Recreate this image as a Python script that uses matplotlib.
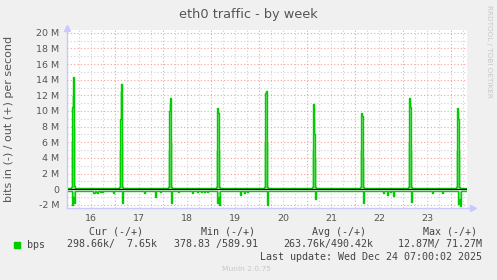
import numpy as np
import matplotlib
matplotlib.use("Agg")
import matplotlib.pyplot as plt
from matplotlib.patches import Rectangle

# one sample per 30 minutes, starting Mon Dec 16 00:00 (values in Mbit/s)
n_samples = 400
out_base = 0.15
in_base = -0.2

# daily backup spikes on the "out" side: first slot, avg values, max values
spike_start = [4, 52, 101, 149, 197, 245, 293, 341, 389]
spike_avg = [
    [0.3, 10.5, 14.4, 0.4],
    [0.3, 9.0, 13.4, 0.3],
    [0.3, 10.0, 11.7, 0.3],
    [0.3, 10.4, 9.8, 0.3],
    [0.3, 12.3, 12.5, 0.3],
    [0.3, 10.9, 7.0, 0.3],
    [0.3, 9.7, 9.3, 0.3],
    [0.3, 11.7, 10.5, 0.3],
    [0.3, 10.4, 9.0, 0.3],
]
spike_max = [
    [6.0, 12.0, 14.4, 8.0],
    [5.0, 12.5, 13.4, 6.0],
    [5.0, 11.0, 11.7, 6.0],
    [5.0, 10.4, 10.0, 5.0],
    [6.0, 12.3, 12.5, 6.0],
    [5.0, 10.9, 9.0, 4.0],
    [5.0, 9.7, 9.5, 4.0],
    [6.0, 11.7, 11.0, 5.0],
    [5.0, 10.4, 10.0, 5.0],
]

# "in" side dips (slot, value)
in_slots = [5, 6, 7, 26, 27, 29, 30, 33, 35, 46, 55, 77, 88, 93, 104, 111,
            125, 130, 134, 137, 140, 150, 151, 152, 173, 177, 180, 200, 248,
            296, 316, 320, 323, 326, 344, 365, 375, 391, 392, 393]
in_vals = [-2.0, -1.0, -1.8, -0.5, -0.5, -0.4, -0.5, -0.4, -0.4, -0.5, -1.8,
           -0.5, -1.0, -0.3, -1.8, -0.4, -0.5, -0.3, -0.4, -0.4, -0.3, -1.8,
           -1.0, -2.0, -0.7, -0.5, -0.4, -2.0, -1.3, -1.8, -0.5, -0.8, -0.4,
           -0.9, -1.6, -0.5, -0.5, -1.9, -1.2, -2.1]

day_labels = ["16", "17", "18", "19", "20", "21", "22", "23"]
y_ticks = [-2, 0, 2, 4, 6, 8, 10, 12, 14, 16, 18, 20]
y_labels = ["-2 M", "0", "2 M", "4 M", "6 M", "8 M", "10 M", "12 M",
            "14 M", "16 M", "18 M", "20 M"]

# build the series
t = np.arange(n_samples) * 0.5
out_avg = np.full(n_samples, out_base)
out_max = np.full(n_samples, out_base)
for s, a, m in zip(spike_start, spike_avg, spike_max):
    out_avg[s:s + 4] = a
    out_max[s:s + 4] = m
in_avg = np.full(n_samples, in_base)
in_avg[in_slots] = in_vals

W, H = 497, 280
fig = plt.figure(figsize=(W / 100, H / 100), dpi=100, facecolor="#F0F0F0")
ax = fig.add_axes([67 / W, 1 - 208 / H, 400 / W, 178 / H])
ax.set_facecolor("white")
ax.set_xlim(0, 200)
ax.set_ylim(-2.4, 20.35)

red = "#F4A0A0"
gray = "#D0D0D0"
axis_col = "#C8C8FF"

# grid
for h in range(6, 200, 6):
    ax.axvline(h, color=red if h % 24 == 0 else gray, lw=0.8,
               ls=(0, (1, 2)), zorder=1)
for v in range(-2, 21):
    if v == 0:
        continue
    ax.axhline(v, color=red if v % 2 == 0 else gray, lw=0.8,
               ls=(0, (1, 2)), zorder=1)

# data
ax.fill_between(t, out_base, out_max, color="#80E080", lw=0, step="post", zorder=2)
ax.fill_between(t, in_avg, in_base, color="#80E080", lw=0, step="post", zorder=2)
ax.step(t, out_avg, where="post", color="#00CC00", lw=1.0, zorder=4)
ax.step(t, in_avg, where="post", color="#00CC00", lw=1.0, zorder=4)
ax.axhline(0, color="black", lw=0.9, zorder=5)

# axes
for side in ["top", "right", "left", "bottom"]:
    ax.spines[side].set_visible(False)
ax.plot([0, 0], [0, 1.01], transform=ax.transAxes, color=axis_col,
        lw=1, clip_on=False, zorder=5)
ax.plot([0, 1.01], [0, 0], transform=ax.transAxes, color=axis_col,
        lw=1, clip_on=False, zorder=5)
ax.plot(0, 1.012, marker="^", ms=4, color=axis_col, transform=ax.transAxes,
        clip_on=False, zorder=5)
ax.plot(1.015, 0, marker=">", ms=4, color=axis_col, transform=ax.transAxes,
        clip_on=False, zorder=5)

ax.set_xticks([12 + 24 * k for k in range(len(day_labels))])
ax.set_xticklabels(day_labels)
ax.set_yticks(y_ticks)
ax.set_yticklabels(y_labels)
ax.tick_params(axis="x", length=0, pad=4, labelsize=6.8, labelcolor="#555555")
ax.tick_params(axis="y", length=0, pad=5.5, labelsize=6.8, labelcolor="#555555")

ax.set_ylabel("bits in (-) / out (+) per second", fontsize=8, color="#555555")
ax.yaxis.set_label_coords(-53 / 400, 0.5)

def ftext(x, y, s, **kw):
    fig.text(x / W, 1 - y / H, s, **kw)

ftext(248, 18, "eth0 traffic - by week", ha="center", va="baseline",
      fontsize=9.3, color="#555555")
ftext(489, 5, "RRDTOOL / TOBI OETIKER", ha="center", va="top", rotation=270,
      fontsize=5.2, color="#C8C8C8")

mono = dict(family="DejaVu Sans Mono", fontsize=7.2, color="#444444", va="center")
ftext(89, 232, "Cur (-/+)", **mono)
ftext(201, 232, "Min (-/+)", **mono)
ftext(312, 232, "Avg (-/+)", **mono)
ftext(423, 232, "Max (-/+)", **mono)
ftext(27, 244.5, "bps", **mono)
ftext(67, 244.5, "298.66k/  7.65k", **mono)
ftext(174, 244.5, "378.83 /589.91", **mono)
ftext(283, 244.5, "263.76k/490.42k", **mono)
ftext(398, 244.5, "12.87M/ 71.27M", **mono)
ftext(482, 257, "Last update: Wed Dec 24 07:00:02 2025", ha="right", **mono)
ftext(222, 269, "Munin 2.0.75", va="center", fontsize=5.4, color="#C8C8C8")

fig.patches.append(Rectangle((14 / W, 1 - 248 / H), 6 / W, 6 / H,
                             transform=fig.transFigure, color="#00CC00"))

fig.savefig("out.png", dpi=100, facecolor=fig.get_facecolor())
